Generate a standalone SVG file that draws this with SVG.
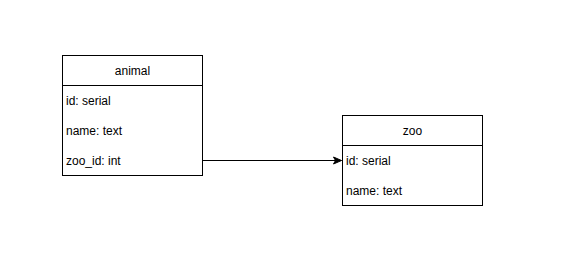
<svg xmlns="http://www.w3.org/2000/svg" width="582" height="267" viewBox="0 0 582 267">
  <style>
    .box { fill: #ffffff; stroke: #000000; stroke-width: 1; }
    .sep { stroke: #000000; stroke-width: 1; }
    .title { font-family: "Liberation Sans", Arial, sans-serif; font-size: 12px; fill: #000000; text-anchor: middle; dominant-baseline: central; }
    .field { font-family: "Liberation Sans", Arial, sans-serif; font-size: 12px; fill: #000000; dominant-baseline: central; }
    .edge { fill: none; stroke: #000000; stroke-width: 1; }
  </style>
  <defs>
    <marker id="arrow" markerWidth="10" markerHeight="10" refX="9" refY="5" orient="auto" markerUnits="userSpaceOnUse">
      <path d="M1,1.5 L9,5 L1,8.5 L3,5 Z" fill="#000000" stroke="#000000" stroke-width="1"/>
    </marker>
  </defs>
  <rect width="582" height="267" fill="#ffffff"/>

  <g id="animal">
    <rect class="box" x="62.5" y="55.5" width="140" height="120"/>
    <line class="sep" x1="62.5" y1="85.5" x2="202.5" y2="85.5"/>
    <text class="title" x="132.5" y="71">animal</text>
    <text class="field" x="66" y="101">id: serial</text>
    <text class="field" x="66" y="131">name: text</text>
    <text class="field" x="66" y="161">zoo_id: int</text>
  </g>

  <g id="zoo">
    <rect class="box" x="342.5" y="115.5" width="140" height="90"/>
    <line class="sep" x1="342.5" y1="145.5" x2="482.5" y2="145.5"/>
    <text class="title" x="412.5" y="131">zoo</text>
    <text class="field" x="346" y="161">id: serial</text>
    <text class="field" x="346" y="191">name: text</text>
  </g>

  <g id="connectors">
    <path class="edge" d="M202.5,160.5 L341.5,160.5" marker-end="url(#arrow)"/>
  </g>
</svg>
